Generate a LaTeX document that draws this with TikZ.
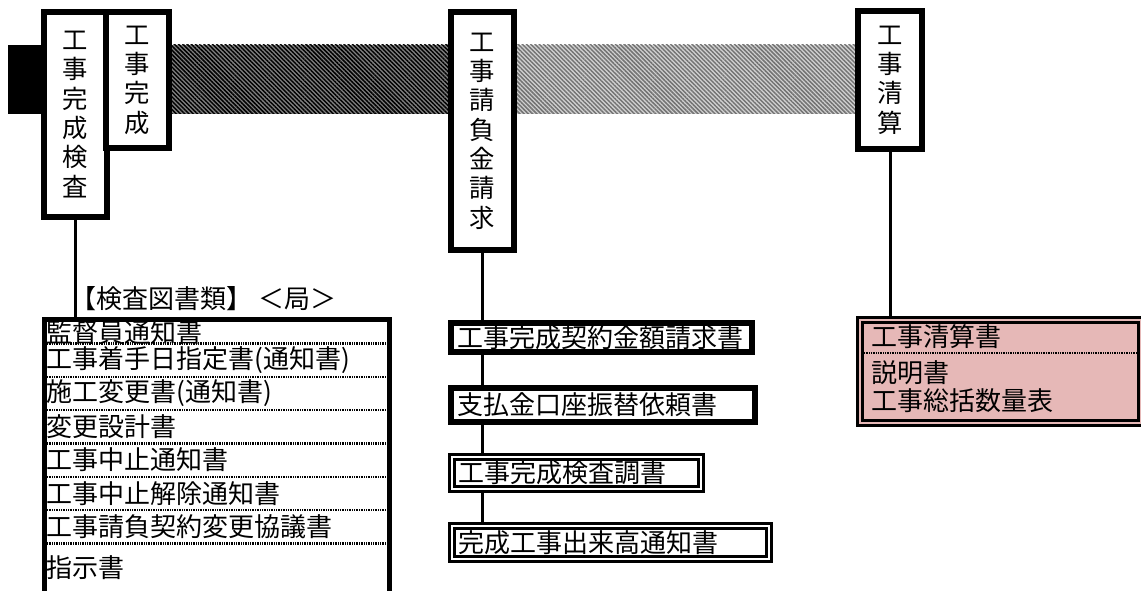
\documentclass[tikz,border=0pt]{standalone}
\usepackage{fontspec}
\setmainfont{Noto Sans CJK JP}
\usetikzlibrary{patterns.meta,backgrounds}
\definecolor{rosefill}{RGB}{230,184,183}
\definecolor{hatchdark}{gray}{0.5}
\definecolor{hatchlight}{gray}{0.82}
\definecolor{hatchline}{gray}{0.45}
\begin{document}
\begin{tikzpicture}[x=0.75pt,y=-0.75pt,
  hdr/.style={draw,line width=4.5pt,fill=white,inner sep=0pt,align=center,font=\fontsize{19}{22}\selectfont},
  doc/.style={font=\fontsize{19.5}{24}\selectfont,inner sep=0pt,anchor=west},
  lab/.style={font=\fontsize{19.5}{22}\selectfont,inner sep=0pt,anchor=west},
  thickbox/.style={draw,line width=4.5pt,fill=white,inner ysep=0pt,inner xsep=4.5pt,align=left,font=\fontsize{19.5}{24}\selectfont},
  dblbox/.style={draw,line width=2.25pt,double=white,double distance=1.5pt,fill=white,inner ysep=0pt,inner xsep=4.5pt,align=left,font=\fontsize{19.5}{24}\selectfont},
  listbox/.style={draw,line width=3.75pt,fill=white,inner sep=0pt},
  pinkbox/.style={draw,line width=2.25pt,double=rosefill,double distance=1.5pt,fill=rosefill,inner sep=0pt},
  conn/.style={line width=2.25pt},
  sepline/.style={line width=1.6pt,dash pattern=on 0.7pt off 0.6pt}]
\path[use as bounding box,clip] (0,0) rectangle (1141,591);
% band
\fill[black] (8,45) rectangle (44,114);
\path[preaction={fill=hatchdark},pattern={Lines[angle=-45,distance=2.25pt,line width=1.1pt]},pattern color=black] (42,45) rectangle (452,114);
\path[preaction={fill=hatchlight},pattern={Lines[angle=-45,distance=2.25pt,line width=1.1pt]},pattern color=hatchline] (450,45) rectangle (860,114);
% header boxes
\node[hdr,minimum width=47.25pt,minimum height=153.75pt] (B1) at (75.5,114.5) {工\\事\\完\\成\\検\\査};
\node[hdr,minimum width=47.25pt,minimum height=102pt] (B2) at (137.5,80) {工\\事\\完\\成};
\node[hdr,minimum width=47.25pt,minimum height=178.5pt] (B3) at (482.5,131) {工\\事\\請\\負\\金\\請\\求};
\node[hdr,minimum width=48pt,minimum height=103.5pt] (B4) at (890,80) {工\\事\\清\\算};
% left list
\node[listbox,minimum width=258.375pt,minimum height=225.375pt] (L) at (216.75,469.75) {};
\node[lab] (lab) at (70,299) {【検査図書類】 ＜局＞};
\node[doc] (r1) at (46,333) {監督員通知書};
\node[doc] (r2) at (46,360) {工事着手日指定書(通知書)};
\node[doc] (r3) at (46,393.5) {施工変更書(通知書)};
\node[doc] (r4) at (46,427) {変更設計書};
\node[doc] (r5) at (46,460) {工事中止通知書};
\node[doc] (r6) at (46,493.5) {工事中止解除通知書};
\node[doc] (r7) at (46,527) {工事請負契約変更協議書};
\node[doc] (r8) at (46,568) {指示書};
\foreach \yy in {343.5,377,410,443.5,477,510,543.5}
  \draw[sepline] (47,\yy) -- (386,\yy);
% middle boxes
\node[thickbox,minimum width=225.75pt,text width=216.75pt,minimum height=21.75pt] (M1) at (601.5,337.5) {工事完成契約金額請求書};
\node[thickbox,minimum width=228pt,text width=219pt,minimum height=25.5pt] (M2) at (603,405) {支払金口座振替依頼書};
\node[dblbox,minimum width=186.75pt,text width=177.75pt,minimum height=24pt] (M3) at (576.5,473) {工事完成検査調書};
\node[dblbox,minimum width=237.75pt,text width=228.75pt,minimum height=24.75pt] (M4) at (610.5,542.5) {完成工事出来高通知書};
% right box
\node[pinkbox,minimum width=211.125pt,minimum height=76.5pt] (P) at (1000.25,371.5) {};
\node[doc] (p1) at (871,337) {工事清算書};
\node[doc] (p2) at (871,373) {説明書};
\node[doc] (p3) at (871,401) {工事総括数量表};
\draw[sepline] (864,353) -- (1138,353);
% connectors
\begin{scope}[on background layer]
\draw[conn] (B1.south) -- (B1.south |- L.north);
\draw[conn] (B3.south) -- (B3.south |- M4.north);
\draw[conn] (B4.south) -- (B4.south |- P.north);
\end{scope}
\end{tikzpicture}
\end{document}
